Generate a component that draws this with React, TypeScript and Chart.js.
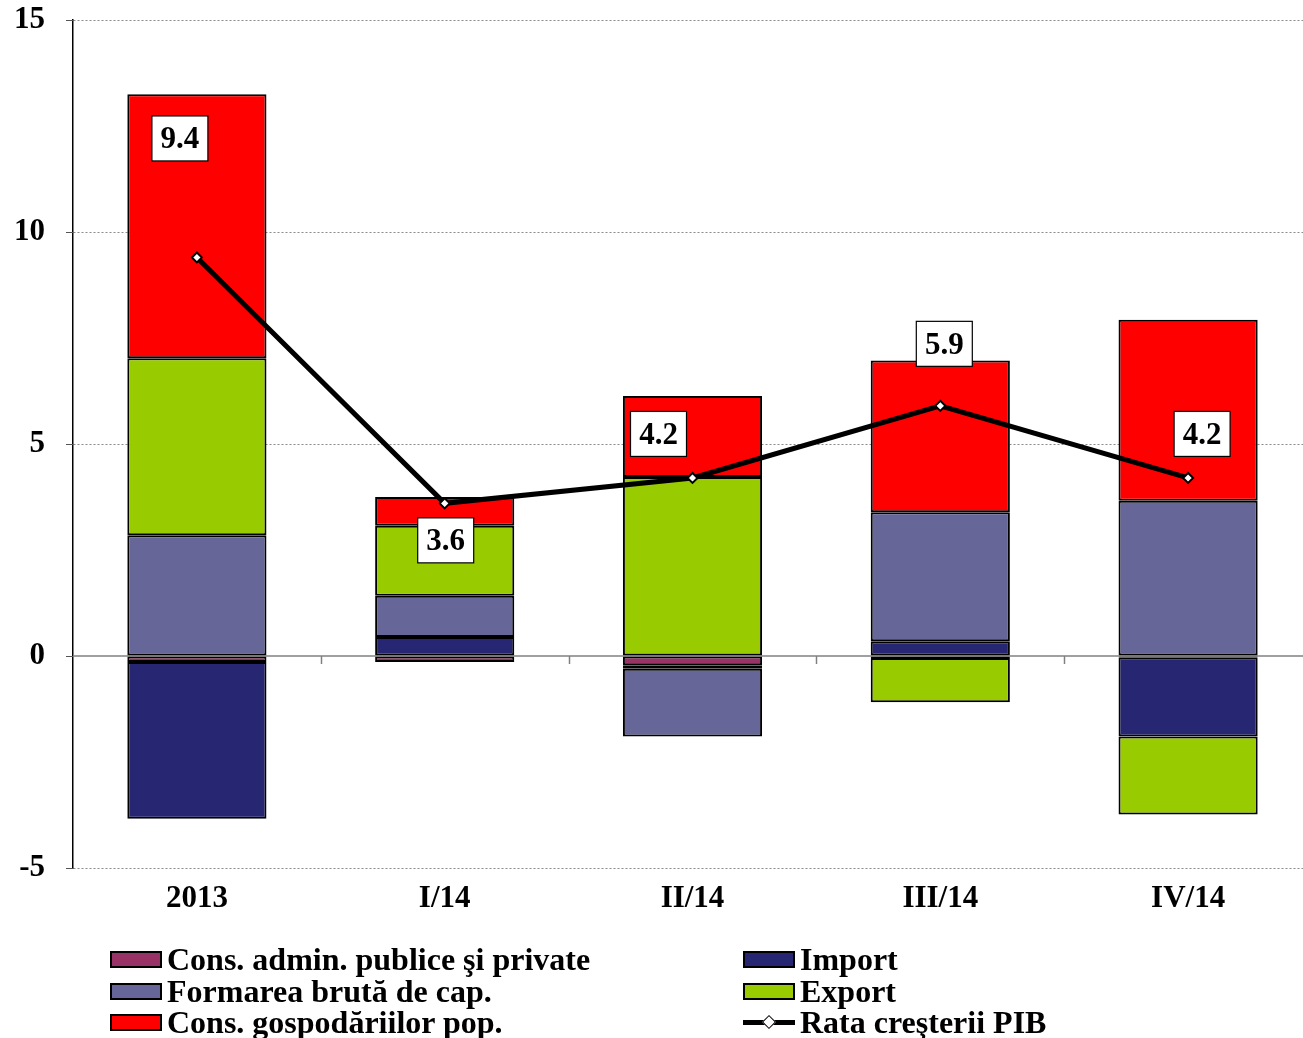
import React, { useEffect, useRef } from "react";
import { Chart, registerables } from "chart.js";

Chart.register(...registerables);

const categories = ["2013", "I/14", "II/14", "III/14", "IV/14"];
const consAdmin = [-0.14, -0.14, -0.22, -0.05, -0.03];
const importVals = [-3.7, 0.45, -0.08, 0.35, -1.87];
const formareVals = [2.85, 0.97, -1.6, 3.04, 3.66];
const exportVals = [4.17, 1.65, 4.22, -1.04, -1.84];
const consGosp = [6.23, 0.68, 1.91, 3.58, 4.27];
const gdpGrowth = [9.4, 3.6, 4.2, 5.9, 4.2];
const yTicks = [-5, 0, 5, 10, 15];

const seriesNames = [
  "Cons. admin. publice şi private",
  "Import",
  "Formarea brută de cap.",
  "Export",
  "Cons. gospodăriilor pop.",
  "Rata creşterii PIB",
];
const seriesColors = ["#993366", "#262673", "#666699", "#99CC00", "#FF0000", "#000000"];

// label box offsets relative to the line point (pixels)
const labelOffsets = [
  [-17, -119],
  [1, 37],
  [-34, -44],
  [4, -62],
  [14, -44],
];

const FONT = '"Liberation Serif", "Times New Roman", serif';

const decorPlugin = {
  id: "decor",
  beforeDatasetsDraw(chart: any) {
    const { ctx, chartArea, scales } = chart;
    const y0 = scales.y.getPixelForValue(0);
    ctx.save();
    ctx.strokeStyle = "#808080";
    ctx.lineWidth = 1.5;
    ctx.beginPath();
    ctx.moveTo(chartArea.left, y0);
    ctx.lineTo(chartArea.right, y0);
    ctx.stroke();
    const n = categories.length;
    const w = (chartArea.right - chartArea.left) / n;
    for (let i = 1; i < n; i++) {
      const x = Math.round(chartArea.left + w * i) + 0.5;
      ctx.beginPath();
      ctx.moveTo(x, y0);
      ctx.lineTo(x, y0 + 8);
      ctx.stroke();
    }
    // y-axis tick marks
    ctx.strokeStyle = "#555555";
    ctx.lineWidth = 1;
    yTicks.forEach((v) => {
      const y = Math.round(scales.y.getPixelForValue(v)) + 0.5;
      ctx.beginPath();
      ctx.moveTo(chartArea.left - 7, y);
      ctx.lineTo(chartArea.left, y);
      ctx.stroke();
    });
    ctx.restore();
  },
  afterDatasetsDraw(chart: any) {
    const { ctx } = chart;
    const lineIdx = chart.data.datasets.length - 1;
    const meta = chart.getDatasetMeta(lineIdx);
    ctx.save();
    ctx.font = `bold 31px ${FONT}`;
    ctx.textAlign = "center";
    ctx.textBaseline = "middle";
    meta.data.forEach((pt: any, i: number) => {
      const cx = pt.x + labelOffsets[i][0];
      const cy = pt.y + labelOffsets[i][1];
      const bw = 56;
      const bh = 45;
      ctx.fillStyle = "#ffffff";
      ctx.fillRect(cx - bw / 2, cy - bh / 2, bw, bh);
      ctx.strokeStyle = "#000000";
      ctx.lineWidth = 1.2;
      ctx.strokeRect(cx - bw / 2, cy - bh / 2, bw, bh);
      ctx.fillStyle = "#000000";
      ctx.fillText(gdpGrowth[i].toFixed(1), cx, cy + 2);
    });
    ctx.restore();
  },
};

export default function App() {
  const ref = useRef<HTMLCanvasElement | null>(null);

  useEffect(() => {
    if (!ref.current) return;
    const barSeries = [consAdmin, importVals, formareVals, exportVals, consGosp];
    const datasets: any[] = barSeries.map((vals, i) => ({
      type: "bar",
      label: seriesNames[i],
      data: vals,
      backgroundColor: seriesColors[i],
      borderColor: "#000000",
      borderWidth: 2,
      borderSkipped: false,
      stack: "bars",
      order: 1,
      barPercentage: 1,
      categoryPercentage: 0.5616,
    }));
    datasets.push({
      type: "line",
      label: seriesNames[5],
      data: gdpGrowth,
      borderColor: "#000000",
      borderWidth: 5,
      tension: 0,
      pointStyle: "rectRot",
      pointRadius: 5,
      pointBackgroundColor: "#ffffff",
      pointBorderColor: "#000000",
      pointBorderWidth: 2,
      stack: "line",
      order: 0,
    });

    const chart = new Chart(ref.current, {
      type: "bar",
      data: { labels: categories, datasets },
      options: {
        responsive: false,
        animation: false,
        layout: { padding: { top: 20, bottom: 110, left: 0, right: 0 } },
        plugins: { legend: { display: false }, tooltip: { enabled: false } },
        scales: {
          x: {
            stacked: true,
            offset: true,
            grid: { display: false, drawTicks: false },
            border: { display: false },
            ticks: {
              color: "#000000",
              font: { family: FONT, size: 31, weight: "bold" },
              padding: 12,
            },
            afterFit: (s: any) => {
              s.height = 60;
            },
          },
          y: {
            stacked: true,
            min: -5,
            max: 15,
            afterBuildTicks: (s: any) => {
              s.ticks = yTicks.map((v) => ({ value: v }));
            },
            grid: {
              color: (c: any) => (c.tick && c.tick.value === 0 ? "rgba(0,0,0,0)" : "#8a8a8a"),
              lineWidth: 1,
              tickLength: 28,
              tickColor: "rgba(0,0,0,0)",
            },
            border: { display: true, color: "#000000", width: 1.5, dash: [2, 2] },
            ticks: {
              color: "#000000",
              font: { family: FONT, size: 31, weight: "bold" },
              padding: 0,
              stepSize: 5,
            },
            afterFit: (s: any) => {
              s.width = 73;
            },
          },
        },
      },
      plugins: [decorPlugin],
    } as any);
    return () => chart.destroy();
  }, []);

  const legendPos = [
    { left: 110, top: 959 },
    { left: 743, top: 959 },
    { left: 110, top: 991 },
    { left: 743, top: 991 },
    { left: 110, top: 1022 },
    { left: 743, top: 1022 },
  ];

  return (
    <div
      style={{
        position: "fixed",
        left: 0,
        top: 0,
        width: 1303,
        height: 1038,
        overflow: "hidden",
        background: "#ffffff",
      }}
    >
      <canvas ref={ref} width={1319} height={1038} style={{ width: 1319, height: 1038, display: "block" }} />
      {seriesNames.map((name, i) => (
        <div
          key={name}
          style={{
            position: "absolute",
            left: legendPos[i].left,
            top: legendPos[i].top - 18,
            height: 36,
            display: "flex",
            alignItems: "center",
            fontFamily: FONT,
            fontWeight: "bold",
            fontSize: 32,
            whiteSpace: "nowrap",
            color: "#000",
          }}
        >
          {i < 5 ? (
            <div
              style={{
                width: 48,
                height: 13,
                background: seriesColors[i],
                border: "2px solid #000",
                marginRight: 5,
              }}
            />
          ) : (
            <div style={{ position: "relative", width: 52, height: 17, marginRight: 5 }}>
              <div style={{ position: "absolute", left: 0, top: 6, width: 52, height: 5, background: "#000" }} />
              <div
                style={{
                  position: "absolute",
                  left: 21,
                  top: 3,
                  width: 8,
                  height: 8,
                  background: "#fff",
                  border: "1.5px solid #000",
                  transform: "rotate(45deg)",
                }}
              />
            </div>
          )}
          <span>{name}</span>
        </div>
      ))}
    </div>
  );
}
